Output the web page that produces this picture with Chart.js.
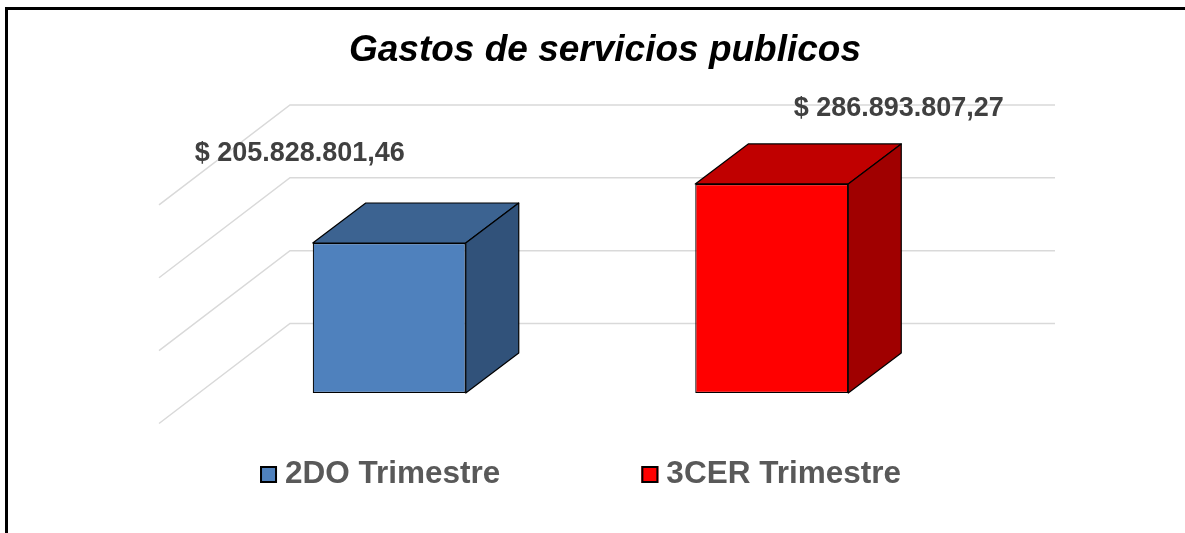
<!DOCTYPE html>
<html>
<head>
<meta charset="utf-8">
<script src="https://cdn.jsdelivr.net/npm/chart.js@4.4.1/dist/chart.umd.min.js"></script>
<style>
  html, body { margin: 0; padding: 0; background: #fff; overflow: hidden; }
  .frame {
    position: absolute; left: 5px; top: 7px;
    width: 1200px; height: 540px;
    box-sizing: border-box;
    border: 3px solid #000;
    background: #fff;
  }
  .chart-wrap { position: relative; width: 1194px; height: 534px; }
</style>
</head>
<body>
<div class="frame">
  <div class="chart-wrap"><canvas id="gastos"></canvas></div>
</div>
<script>
// data
const categories = ['Gastos de servicios publicos'];
const seriesNames = ['2DO Trimestre', '3CER Trimestre'];
const seriesValues = [205828801.46, 286893807.27];
const axisMin = 0;
const axisMax = 300000000;
const axisStep = 100000000;

// colours for front / top / side faces
const frontColors = ['#4F81BD', '#FF0000'];
const topColors = ['#3C6391', '#C00000'];
const sideColors = ['#31527A', '#A00000'];

// fake 3d: depth of the boxes and of the back wall
const depth = { dx: 53, dy: -40 };
const wall = { dx: 92, dy: -69.5, sideDx: -131, sideDy: 100 };
// where Excel put the value labels, relative to the top of each bar
const labelShift = [[-89.5, -82], [127, -68]];

const FONT = '"Liberation Sans", Arial, Helvetica, sans-serif';
Chart.defaults.font.family = FONT;

function money(v) {
  const parts = v.toFixed(2).split('.');
  return '$ ' + parts[0].replace(/\B(?=(\d{3})+(?!\d))/g, '.') + ',' + parts[1];
}

function face(ctx, pts, color) {
  ctx.beginPath();
  ctx.moveTo(pts[0][0], pts[0][1]);
  for (let i = 1; i < pts.length; i++) ctx.lineTo(pts[i][0], pts[i][1]);
  ctx.closePath();
  ctx.fillStyle = color;
  ctx.fill();
  ctx.stroke();
}

const bars3d = {
  id: 'bars3d',
  beforeDatasetsDraw(chart) {
    const { ctx, chartArea: a, scales: { y } } = chart;
    ctx.save();
    ctx.strokeStyle = '#D9D9D9';
    ctx.lineWidth = 1.5;
    y.ticks.forEach(t => {
      const py = y.getPixelForValue(t.value) + wall.dy;
      const x0 = a.left + wall.dx;
      ctx.beginPath();
      ctx.moveTo(x0 + wall.sideDx, py + wall.sideDy);
      ctx.lineTo(x0, py);
      ctx.lineTo(a.right + wall.dx, py);
      ctx.stroke();
    });
    ctx.restore();
  },
  afterDatasetsDraw(chart) {
    const { ctx } = chart;
    ctx.save();
    ctx.strokeStyle = '#000';
    ctx.lineWidth = 1.2;
    ctx.lineJoin = 'round';
    chart.data.datasets.forEach((ds, i) => {
      const bar = chart.getDatasetMeta(i).data[0];
      const { x, y, base, width } = bar.getProps(['x', 'y', 'base', 'width'], true);
      const l = x - width / 2, r = x + width / 2;
      face(ctx, [[l, y], [l + depth.dx, y + depth.dy], [r + depth.dx, y + depth.dy], [r, y]], topColors[i]);
      face(ctx, [[r, y], [r + depth.dx, y + depth.dy], [r + depth.dx, base + depth.dy], [r, base]], sideColors[i]);
    });
    // value labels
    ctx.font = 'bold 27px ' + FONT;
    ctx.fillStyle = '#404040';
    ctx.textAlign = 'center';
    ctx.textBaseline = 'alphabetic';
    chart.data.datasets.forEach((ds, i) => {
      const bar = chart.getDatasetMeta(i).data[0];
      ctx.fillText(money(ds.data[0]), bar.x + labelShift[i][0], bar.y + labelShift[i][1]);
    });
    ctx.restore();
  },
  afterDraw(chart) {
    // legend, drawn by hand so the spacing matches Excel
    const { ctx, chartArea: a } = chart;
    const box = 17, textGap = 8, itemGap = 141;
    const baseline = a.bottom + 90;
    ctx.save();
    ctx.font = 'bold 31.5px ' + FONT;
    const widths = chart.data.datasets.map(ds => box + textGap + ctx.measureText(ds.label).width);
    const total = widths.reduce((s, w) => s + w, 0) + itemGap * (widths.length - 1);
    let cx = (a.left + a.right) / 2 - total / 2;
    chart.data.datasets.forEach((ds, i) => {
      ctx.fillStyle = ds.backgroundColor;
      ctx.fillRect(cx, baseline - box, box, box);
      ctx.lineWidth = 2;
      ctx.strokeStyle = '#000';
      ctx.strokeRect(cx + 1, baseline - box + 1, box - 2, box - 2);
      ctx.fillStyle = '#595959';
      ctx.textAlign = 'left';
      ctx.textBaseline = 'alphabetic';
      ctx.fillText(ds.label, cx + box + textGap, baseline);
      cx += widths[i] + itemGap;
    });
    ctx.restore();
  }
};

const hiddenAxis = (pos, w) => ({
  type: 'linear',
  position: pos,
  display: true,
  grid: { display: false },
  border: { display: false },
  ticks: { display: false },
  afterFit(scale) { scale.width = w; }
});

new Chart(document.getElementById('gastos').getContext('2d'), {
  type: 'bar',
  data: {
    labels: categories,
    datasets: seriesNames.map((name, i) => ({
      label: name,
      data: [seriesValues[i]],
      backgroundColor: frontColors[i],
      borderColor: '#000',
      borderWidth: 1.2,
      borderSkipped: false,
      categoryPercentage: 1.0,
      barPercentage: 0.4
    }))
  },
  options: {
    responsive: true,
    maintainAspectRatio: false,
    animation: false,
    layout: { padding: { top: 0, left: 0, right: 0, bottom: 151 } },
    plugins: {
      legend: { display: false },
      tooltip: { enabled: false },
      title: {
        display: true,
        text: 'Gastos de servicios publicos',
        color: '#000',
        font: { size: 37, weight: 'bold', style: 'italic', lineHeight: 1.2 },
        padding: { top: 19, bottom: 101 }
      }
    },
    scales: {
      x: { display: false },
      y: Object.assign(hiddenAxis('left', 190), {
        min: axisMin,
        max: axisMax,
        ticks: { display: false, stepSize: axisStep }
      }),
      yRight: hiddenAxis('right', 239)
    }
  },
  plugins: [bars3d]
});
</script>
</body>
</html>
